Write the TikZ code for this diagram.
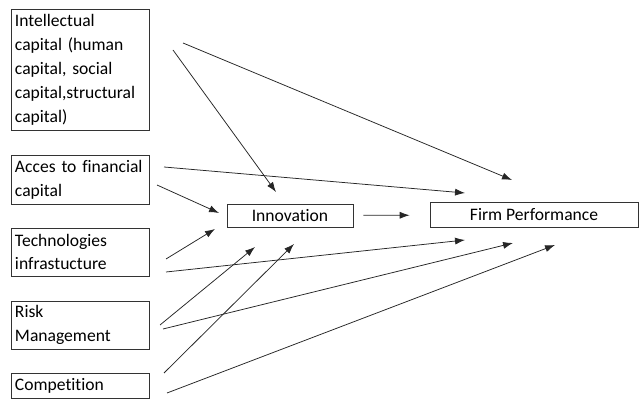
\documentclass[tikz,border=0pt]{standalone}
\usepackage{fontspec}
\setmainfont{Carlito}[Ligatures=NoCommon]
\usetikzlibrary{arrows.meta}
\begin{document}
\begin{tikzpicture}[x=0.03cm,y=-0.03cm]
\tikzset{factor/.style = {shape=rectangle,draw=black!80,line width=0.7pt,text width=3.9cm,inner xsep=0.12cm,inner ysep=0pt,align=left,font=\fontsize{15}{20.4}\selectfont}}
\tikzset{outcome/.style = {shape=rectangle,draw=black!80,line width=0.7pt,inner sep=0pt,font=\fontsize{15}{20.4}\selectfont}}
\tikzset{edge/.style = {-{Latex[length=8.5pt,width=6pt]},draw=black!85,line width=0.65pt}}
\useasboundingbox (0,0) rectangle (639,399);
\node[factor,minimum height=3.63cm] (ic)   at (80,70)    {Intellectual\\capital (human\\capital, social\\capital,structural\\capital)};
\node[factor,minimum height=1.47cm] (afc)  at (80,179.5) {Acces to financial\\capital};
\node[factor,minimum height=1.44cm] (ti)   at (80,252)   {Technologies\\infrastucture};
\node[factor,minimum height=1.44cm] (rm)   at (80,325)   {Risk\\Management};
\node[factor,minimum height=0.75cm] (comp) at (80,385.5) {Competition};
\node[outcome,minimum width=3.78cm,minimum height=0.69cm] (innov) at (290,215.5) {Innovation};
\node[outcome,minimum width=6.24cm,minimum height=0.75cm] (firm)  at (534,215)   {Firm Performance};

% tails and heads of the arrows
\coordinate (ic1) at (173,50);
\coordinate (ic2) at (183,43);
\coordinate (af1) at (164,167);
\coordinate (af2) at (157,185);
\coordinate (ti1) at (166,259);
\coordinate (ti2) at (166,272);
\coordinate (rm1) at (160,325);
\coordinate (rm2) at (163,329);
\coordinate (co1) at (164,373);
\coordinate (co2) at (167,393);
\coordinate (in1) at (276,192);
\coordinate (in2) at (219,213);
\coordinate (in3) at (215,229);
\coordinate (in4) at (255,247);
\coordinate (in5) at (294,244);
\coordinate (fp1) at (512,180);
\coordinate (fp2) at (465,193);
\coordinate (fp3) at (465,240);
\coordinate (fp4) at (513,243);
\coordinate (fp5) at (555,245);

\draw[edge] (ic1) to (in1);
\draw[edge] (ic2) to (fp1);
\draw[edge] (af1) to (fp2);
\draw[edge] (af2) to (in2);
\draw[edge] (ti1) to (in3);
\draw[edge] (ti2) to (fp3);
\draw[edge] (rm1) to (in4);
\draw[edge] (rm2) to (fp4);
\draw[edge] (co1) to (in5);
\draw[edge] (co2) to (fp5);
\draw[edge,shorten <=0.3cm,shorten >=0.6cm] (innov) to (firm);
\end{tikzpicture}
\end{document}
